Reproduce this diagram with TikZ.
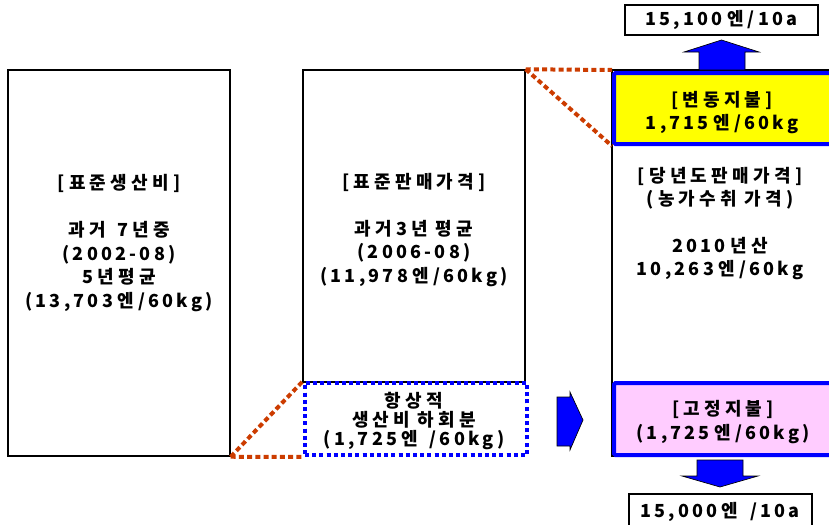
\documentclass[tikz,border=0pt]{standalone}
\usepackage{fontspec}
\setmainfont{Noto Sans CJK KR}[LetterSpace=18]
\newdimen\hgsp \hgsp=3.2pt
\newXeTeXintercharclass\hangulcls
\makeatletter
\count@="AC00
\loop \XeTeXcharclass\count@=\hangulcls \advance\count@ 1 \ifnum\count@<"D7A4 \repeat
\makeatother
\XeTeXinterchartoks\hangulcls\hangulcls={\kern\hgsp}
\XeTeXinterchartokenstate=1
\newcommand\hgfont{\fontsize{13.5pt}{17.6pt}\selectfont}
\newcommand\hg[1]{{\hgfont\kern\hgsp#1\kern\hgsp}}
\newcommand\hgb[1]{{\hgfont#1\kern\hgsp}}
\newcommand\hge[1]{{\hgfont\kern\hgsp#1}}
\newcommand\hgo[1]{{\hgfont#1}}
\definecolor{orng}{RGB}{204,60,0}
\definecolor{pblue}{RGB}{0,0,255}
\definecolor{pyellow}{RGB}{255,255,0}
\definecolor{ppink}{RGB}{255,204,255}
\begin{document}
\begin{tikzpicture}[x=0.75pt,y=-0.75pt,
  plainbox/.style={draw=black, line width=1.1pt, fill=white, inner sep=0pt},
  paybox/.style={draw=pblue, line width=3pt, inner sep=0pt, rounded corners=1pt},
  dotbox/.style={draw=pblue, line width=3pt, dash pattern=on 3pt off 2.4pt, inner sep=0pt},
  orline/.style={draw=orng, line width=3pt, dash pattern=on 3.75pt off 2.4pt},
  bigarrow/.style={draw=black, line width=0.5pt, fill=pblue},
  txt/.style={align=center, inner sep=0pt, font=\fontsize{13.5pt}{17.6pt}\selectfont\bfseries}]
\useasboundingbox (0,0) rectangle (829,525);
\clip (0,0) rectangle (829,525);
% boxes
\node[plainbox, minimum width=166.5pt, minimum height=289.5pt] (cost) at (119,263) {};
\node[plainbox, minimum width=166.5pt, minimum height=234pt] (sale) at (414,226) {};
\node[plainbox, minimum width=178.5pt, minimum height=289.5pt] (cur) at (731,263) {};
\node[dotbox, minimum width=166.5pt, minimum height=54pt] (gap) at (416,419) {};
\node[paybox, fill=pyellow, minimum width=177pt, minimum height=53.25pt] (var) at (732,108.5) {};
\node[paybox, fill=ppink, minimum width=177pt, minimum height=54pt] (fix) at (732,419) {};
% orange dotted connectors
\draw[orline] (cost.south east) -- (gap.north west);
\draw[orline] (cost.south east) -- (gap.south west);
\draw[orline] (sale.north east) -- ([yshift=0.75pt]var.north west);
\draw[orline] (sale.north east) -- (var.south west);
\node[dotbox, minimum width=166.5pt, minimum height=54pt] at (gap) {};
% top and bottom value boxes
\node[plainbox, minimum width=144.75pt, minimum height=22.5pt] (up) at (721.5,20) {};
\node[plainbox, minimum width=137.25pt, minimum height=30.75pt] (down) at (720.5,514.5) {};
% arrows
\draw[bigarrow] (699,70) -- (699,52) -- (684,52) -- (721.5,40) -- (759,52) -- (745,52) -- (745,70) -- cycle;
\draw[bigarrow] (697,460) -- (743,460) -- (743,476) -- (758,476) -- (720,487) -- (682,476) -- (697,476) -- cycle;
\draw[bigarrow] (557,397) -- (570,397) -- (570,392) -- (583,420) -- (570,450) -- (570,446) -- (557,446) -- cycle;
% texts
\node[txt] (tcost) at (119,243) {[\hg{표준생산비}]\\[17.6pt]\hgb{과거} 7\hge{년중}\\(2002-08)\\5\hge{년평균}\\(13,703\hg{엔}/60kg)};
\node[txt] (tsale) at (414,230) {[\hg{표준판매가격}]\\[17.6pt]\hgb{과거}3\hge{년 평균}\\(2006-08)\\(11,978\hg{엔}/60kg)};
\node[txt, font=\fontsize{13.5pt}{17.3pt}\selectfont\bfseries] (tcur) at (720,223.5) {[\hg{당년도판매가격}]\\(\hg{농가수취 가격})\\[17.3pt]2010\hge{년산}\\10,263\hg{엔}/60kg};
\node[txt] (tvar) at (722,112.5) {[\hg{변동지불}]\\1,715\hg{엔}/60kg};
\node[txt] (tfix) at (723,422) {[\hg{고정지불}]\\(1,725\hg{엔}/60kg)};
\node[txt, font=\fontsize{13.5pt}{14.25pt}\selectfont\bfseries] (tgap) at (414,421) {\hgo{항상적}\\\hgo{생산비 하회분}\\(1,725\hg{엔} /60kg)};
\node[txt] (tup) at (up) {15,100\hg{엔}/10a};
\node[txt] (tdown) at (720,512) {15,000\hg{엔} /10a};
\end{tikzpicture}
\end{document}
